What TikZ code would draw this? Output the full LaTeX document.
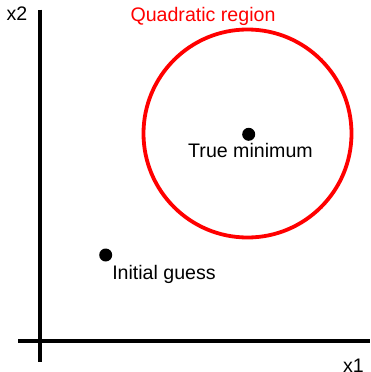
\documentclass[tikz,border=0pt]{standalone}
\usepackage{fontspec}
\setmainfont{Liberation Sans}
\usetikzlibrary{positioning}

\tikzset{
	axis/.style={line width=4pt, black},
	dot/.style={circle, fill=black, inner sep=0pt, minimum size=13pt},
	lbl/.style={font=\fontsize{19.6}{23}\selectfont, inner sep=0pt, anchor=base},
	region/.style={circle, draw=red, line width=3.8pt, inner sep=0pt, minimum size=208pt}
}

\begin{document}
\begin{tikzpicture}[x=1pt, y=-1pt]
	\useasboundingbox (0, 0) rectangle (370, 372);
	% Axes:
	\coordinate (Ytop) at (39.5, 9.5);
	\coordinate (Ybot) at (39.5, 362);
	\coordinate (Xleft) at (18, 341);
	\coordinate (Xright) at (370, 341);
	\draw[axis] (Ytop) -- (Ybot);
	\draw[axis] (Xleft) -- (Xright);
	\node[lbl] (Lx2) at (17, 20.7){x2};
	\node[lbl] (Lx1) at (353.5, 372){x1};
	% Region and points:
	\node[region] (Reg) at (247.5, 133.5){};
	\node[lbl, red] (Lreg) at (203, 21.7){Quadratic region};
	\node[dot] (Min) at (248.7, 134.3){};
	\node[lbl] (Lmin) at (250.5, 157){True minimum};
	\node[dot] (Init) at (105.7, 255){};
	\node[lbl] (Linit) at (164, 279.5){Initial guess};
\end{tikzpicture}
\end{document}
